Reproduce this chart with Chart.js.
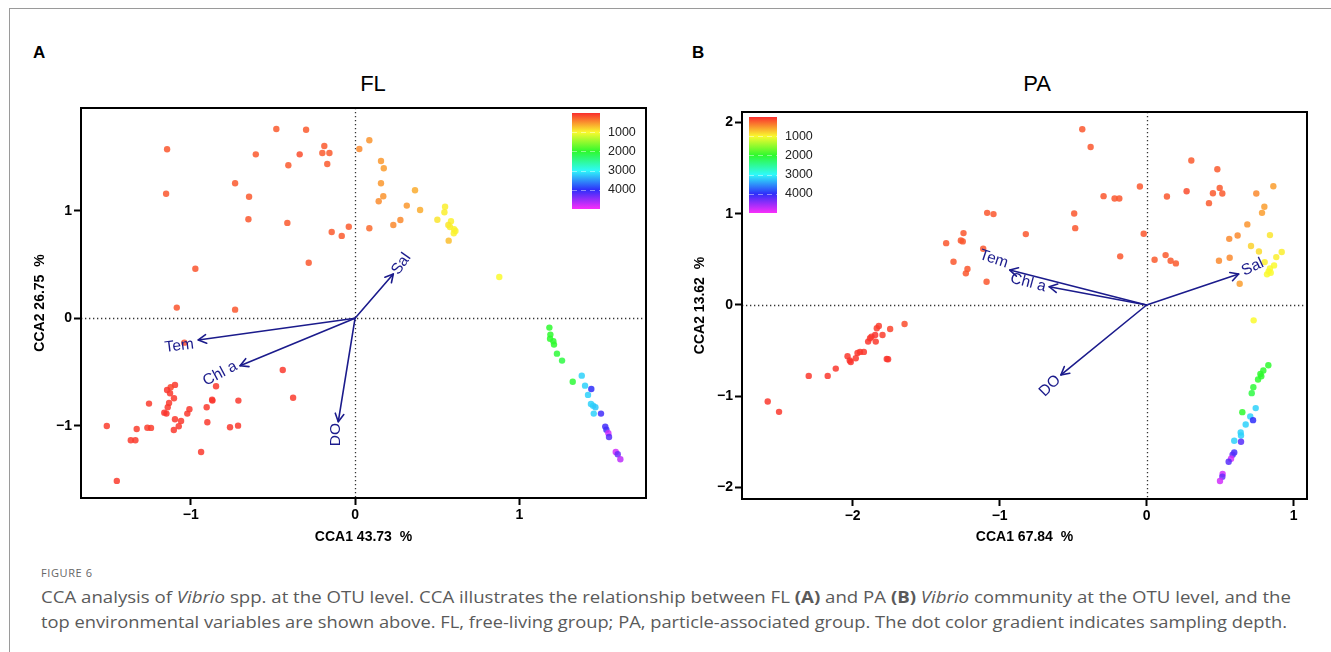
<!DOCTYPE html>
<html><head><meta charset="utf-8">
<script src="https://cdn.jsdelivr.net/npm/chart.js@4.4.1/dist/chart.umd.min.js"></script>
<style>
body{margin:0;background:#fff;width:1331px;height:652px;overflow:hidden;position:relative;font-family:"Liberation Sans",Arial,sans-serif}
#frame{position:absolute;left:9px;top:8px;width:1400px;height:700px;border-left:1px solid #9a9a9a;border-top:1px solid #9a9a9a}
canvas{position:absolute;top:0}
.lbl{position:absolute;font-weight:bold;font-size:17px;color:#000}
.ttl{position:absolute;font-size:22px;color:#000;transform:translateX(-50%)}
#fig{position:absolute;left:41px;top:565px;font-family:"Open Sans",sans-serif;font-size:11px;color:#666;letter-spacing:0.6px}
.cap{position:absolute;left:41px;font-family:"Open Sans",sans-serif;font-size:15.5px;color:#5a5a5a;white-space:nowrap;transform-origin:0 0}
</style></head><body>
<div id="frame"></div>
<div class="lbl" style="left:33px;top:43px">A</div>
<div class="lbl" style="left:692px;top:43px">B</div>
<div class="ttl" style="left:373px;top:71px">FL</div>
<div class="ttl" style="left:1037px;top:71px">PA</div>
<canvas id="c1" width="665" height="560" style="left:0"></canvas>
<canvas id="c2" width="666" height="560" style="left:665px"></canvas>
<div id="fig">FIGURE 6</div>
<div class="cap" id="cap1" style="top:586px">CCA analysis of <i>Vibrio</i> spp. at the OTU level. CCA illustrates the relationship between FL <b>(A)</b> and PA <b>(B)</b> <i>Vibrio</i> community at the OTU level, and the</div>
<div class="cap" id="cap2" style="top:611px">top environmental variables are shown above. FL, free-living group; PA, particle-associated group. The dot color gradient indicates sampling depth.</div>
<script>
// ---------- DATA ----------
const flX = [-1.144,-1.150,-0.730,-0.645,-0.649,-0.604,-0.479,-0.406,-0.337,-0.298,-0.187,-0.199,-0.156,-0.169,-0.412,-0.142,-0.081,-0.038,-0.282,-0.972,-1.085,-0.730,
 0.026,0.087,0.158,0.175,0.158,0.172,0.144,0.087,0.233,0.276,0.315,0.365,0.396,0.501,0.548,0.544,0.584,0.568,0.578,0.603,0.611,0.601,0.570,0.878,
 -1.039,-1.096,-1.122,-1.144,-1.126,-1.102,-1.254,-1.132,-1.140,-1.161,-1.148,-1.096,-1.059,-1.073,-1.103,-1.008,-1.021,-0.846,-0.870,-0.868,-0.903,-0.899,-0.710,-0.761,-0.712,-0.440,-0.377,-0.937,-1.511,-1.329,-1.264,-1.242,-1.365,-1.337,-1.450,
 1.183,1.189,1.187,1.207,1.211,1.229,1.260,1.325,1.380,1.400,1.438,1.418,1.436,1.449,1.463,1.453,1.497,1.523,1.530,1.542,1.546,1.587,1.599,1.615];
const flY = [1.572,1.159,1.256,1.131,0.921,1.525,1.761,1.423,1.525,1.754,1.603,1.538,1.538,1.435,0.887,0.803,0.766,0.852,0.517,0.461,0.099,0.080,
 1.575,1.656,1.463,1.395,1.256,1.135,1.088,0.837,0.868,0.914,1.048,1.191,1.007,0.917,1.038,0.986,0.902,0.868,0.849,0.828,0.812,0.791,0.722,0.384,
 -0.227,-0.620,-0.642,-0.667,-0.698,-0.744,-0.794,-0.788,-0.828,-0.878,-0.887,-0.940,-0.955,-1.005,-1.039,-0.847,-0.887,-0.633,-0.757,-0.766,-0.828,-0.968,-0.766,-1.014,-0.999,-0.481,-0.739,-1.244,-1.002,-1.030,-1.018,-1.020,-1.135,-1.135,-1.513,
 -0.087,-0.152,-0.190,-0.214,-0.245,-0.329,-0.394,-0.590,-0.534,-0.627,-0.658,-0.713,-0.797,-0.813,-0.828,-0.887,-0.887,-1.008,-1.036,-1.070,-1.104,-1.244,-1.265,-1.312];
const flDepth = [200,200,210,210,200,210,220,220,150,220,220,220,220,220,210,220,220,220,200,190,190,200,
 450,500,520,540,520,500,460,300,450,450,520,620,620,900,950,950,960,900,950,960,960,960,700,1000,
 160,60,120,40,60,60,70,60,60,20,40,60,60,60,60,50,50,60,40,40,60,60,50,60,60,60,70,60,80,80,80,80,70,70,70,
 2000,2000,2000,2000,2000,2050,2100,2050,3200,3200,4000,3200,3200,3200,3250,3200,4100,4100,4100,4800,4200,4800,4300,4700];

const paX = [-1.364,-1.314,-1.264,-1.251,-1.246,-1.219,-1.230,-1.112,-1.089,-1.085,-1.042,-0.822,-0.493,-0.486,-0.438,-0.381,-0.293,-0.218,-0.186,-0.180,-0.046,-0.020,0.054,0.129,0.163,0.199,0.138,0.272,0.304,0.424,0.451,0.481,0.497,0.515,
 0.492,0.562,0.565,0.619,0.685,0.710,0.746,0.764,0.785,0.801,0.839,0.862,0.803,0.882,0.919,0.867,0.839,0.830,0.819,0.844,0.633,0.728,
 0.828,0.794,0.774,0.780,0.758,0.726,0.715,0.651,0.742,0.705,0.724,0.674,0.640,0.642,0.596,0.642,0.596,0.585,0.574,0.558,0.517,0.515,0.499,
 -2.578,-2.501,-2.299,-2.170,-2.115,-2.035,-2.020,-2.013,-1.979,-1.967,-1.950,-1.924,-1.895,-1.882,-1.872,-1.847,-1.843,-1.836,-1.822,-1.797,-1.768,-1.759,-1.745,-1.647];
const paY = [0.678,0.474,0.708,0.697,0.788,0.394,0.347,0.616,0.255,1.010,0.996,0.777,1.003,0.842,1.926,1.732,1.193,1.167,1.167,0.533,1.299,0.780,0.496,0.547,0.485,0.456,1.189,1.247,1.583,1.116,1.225,1.488,1.283,1.222,
 0.485,0.725,0.517,0.762,0.883,0.646,1.222,0.587,1.010,1.076,0.766,1.302,0.470,0.525,0.580,0.434,0.401,0.369,0.336,0.353,0.233,-0.168,
 -0.660,-0.718,-0.755,-0.781,-0.817,-0.901,-0.966,-1.174,-1.130,-1.222,-1.262,-1.310,-1.397,-1.430,-1.488,-1.499,-1.616,-1.641,-1.685,-1.718,-1.852,-1.882,-1.929,
 -1.058,-1.171,-0.777,-0.777,-0.697,-0.561,-0.609,-0.624,-0.583,-0.525,-0.514,-0.514,-0.401,-0.364,-0.347,-0.328,-0.401,-0.255,-0.230,-0.328,-0.591,-0.594,-0.263,-0.208];
const paDepth = [200,200,200,200,200,200,200,200,200,200,200,200,200,200,200,200,200,200,200,200,200,200,220,220,220,220,200,150,220,220,220,220,220,220,
 450,450,450,450,500,800,450,850,550,550,900,550,950,950,950,1000,1000,1000,1000,1000,550,1000,
 2000,2000,2000,2000,2000,2050,2100,2000,3200,3200,4000,3200,3200,3200,3200,4200,4100,4200,4800,4200,4800,4300,4800,
 50,50,50,50,50,60,40,30,50,40,50,50,40,40,60,20,60,80,80,80,40,40,110,150];

const envNames = ['Tem','Chl a','DO','Sal'];
const flEnvX = [-0.954,-0.700,-0.102,0.233];
const flEnvY = [-0.202,-0.441,-0.962,0.412];
const paEnvX = [-0.931,-0.663,-0.583,0.626];
const paEnvY = [0.383,0.200,-0.766,0.339];

const flXTicks = [-1,0,1];
const flYTicks = [-1,0,1];
const paXTicks = [-2,-1,0,1];
const paYTicks = [-2,-1,0,1,2];
const depthTicks = [1000,2000,3000,4000];
const depthMax = 5000;

// ---------- STYLE ----------
const FONT = '"Liberation Sans", Arial, sans-serif';
const NAVY = '#1b1b8c';
function depthColor(d, a){ const h = 300*d/depthMax; return `hsla(${h.toFixed(1)},95%,58%,${a})`; }
const fmt = v => v < 0 ? '\u2212' + Math.abs(v) : String(v);

// label placement (pixel offsets from arrow tip, rotation degrees)
const flLabelStyle = [{dx:-19,dy:6,rot:-7},{dx:-20,dy:8,rot:-28},{dx:-3,dy:13,rot:-90},{dx:8,dy:-10,rot:-55}];
const paLabelStyle = [{dx:-16,dy:-11,rot:18},{dx:-21,dy:-4,rot:15},{dx:-11,dy:11,rot:-45},{dx:14,dy:-7,rot:-25}];

function overlayPlugin(cfg){
  return {
    id:'overlay',
    beforeDatasetsDraw(chart){
      const {ctx, chartArea:a, scales:{x,y}} = chart;
      ctx.save();
      ctx.strokeStyle = '#333'; ctx.lineWidth = 1.3; ctx.setLineDash([1.3,2.7]);
      const x0 = Math.round(x.getPixelForValue(0))+0.5, y0 = Math.round(y.getPixelForValue(0))+0.5;
      ctx.beginPath(); ctx.moveTo(a.left, y0); ctx.lineTo(a.right, y0); ctx.stroke();
      ctx.beginPath(); ctx.moveTo(x0, a.top); ctx.lineTo(x0, a.bottom); ctx.stroke();
      ctx.restore();
    },
    afterDatasetsDraw(chart){
      const {ctx, chartArea:a, scales:{x,y}} = chart;
      const ox = x.getPixelForValue(0), oy = y.getPixelForValue(0);
      ctx.save();
      ctx.strokeStyle = NAVY; ctx.fillStyle = NAVY; ctx.lineWidth = 1.6; ctx.lineCap='round'; ctx.lineJoin='round';
      cfg.envX.forEach((ev,i)=>{
        const tx = x.getPixelForValue(ev), ty = y.getPixelForValue(cfg.envY[i]);
        ctx.beginPath(); ctx.moveTo(ox,oy); ctx.lineTo(tx,ty); ctx.stroke();
        const ang = Math.atan2(ty-oy, tx-ox), L = 9, sp = 0.5;
        ctx.beginPath();
        ctx.moveTo(tx - L*Math.cos(ang-sp), ty - L*Math.sin(ang-sp));
        ctx.lineTo(tx,ty);
        ctx.lineTo(tx - L*Math.cos(ang+sp), ty - L*Math.sin(ang+sp));
        ctx.stroke();
        const st = cfg.labels[i];
        ctx.save();
        ctx.translate(tx+st.dx, ty+st.dy); ctx.rotate(st.rot*Math.PI/180);
        ctx.font = '15.5px ' + FONT; ctx.textAlign='center'; ctx.textBaseline='middle';
        ctx.fillText(envNames[i], 0, 0);
        ctx.restore();
      });
      ctx.restore();
      // colour bar
      const b = cfg.bar;
      const bx = b.fromRight ? a.right - b.off - b.w : a.left + b.off;
      const by = a.top + 5, bh = 96;
      const g = ctx.createLinearGradient(0, by, 0, by+bh);
      for (let s=0; s<=20; s++){ g.addColorStop(s/20, depthColor(depthMax*s/20, 1)); }
      ctx.save();
      ctx.fillStyle = g; ctx.fillRect(bx, by, b.w, bh);
      ctx.font = '12.5px ' + FONT; ctx.fillStyle = '#222'; ctx.textAlign='left'; ctx.textBaseline='middle';
      depthTicks.forEach(t=>{
        const ty = by + bh*t/depthMax;
        ctx.strokeStyle = 'rgba(255,255,255,0.45)'; ctx.lineWidth = 1;
        ctx.setLineDash([5,4]);
        ctx.beginPath(); ctx.moveTo(bx, Math.round(ty)+0.5); ctx.lineTo(bx+b.w, Math.round(ty)+0.5); ctx.stroke();
        ctx.fillText(String(t), bx + b.w + 8, ty);
      });
      ctx.restore();
    },
    afterDraw(chart){
      const {ctx, chartArea:a} = chart;
      ctx.save(); ctx.strokeStyle='#000'; ctx.lineWidth=2;
      ctx.strokeRect(a.left, a.top, a.right-a.left, a.bottom-a.top);
      ctx.restore();
    }
  };
}

function makeChart(id, xs, ys, ds, xr, yr, xT, yT, xTitle, yTitle, yW, xH, pad, yTitlePad, cfg){
  const pts = xs.map((v,i)=>({x:v, y:ys[i]}));
  const tickFont = {family:FONT, size:14, weight:'bold'};
  const titleFont = {family:FONT, size:14, weight:'bold'};
  const axisCommon = {
    grid:{drawOnChartArea:false, drawTicks:true, tickLength:7, tickWidth:2, tickColor:'#000'},
    border:{display:true, color:'#000', width:2},
  };
  return new Chart(document.getElementById(id), {
    type:'scatter',
    data:{datasets:[{data:pts, pointRadius:3.2, pointHoverRadius:3.2, borderWidth:0,
      pointBackgroundColor: ds.map(d=>depthColor(d,0.85))}]},
    options:{
      responsive:false, animation:false, devicePixelRatio:1,
      layout:{padding:pad},
      plugins:{legend:{display:false}, tooltip:{enabled:false}},
      scales:{
        x:{type:'linear', min:xr[0], max:xr[1], ...axisCommon,
          afterBuildTicks:s=>{s.ticks = xT.map(v=>({value:v}));},
          afterFit:s=>{s.height = xH;},
          ticks:{color:'#000', font:tickFont, padding:2, maxRotation:0, callback:fmt},
          title:{display:true, text:xTitle, color:'#000', font:titleFont, padding:{top:0,bottom:14}}},
        y:{type:'linear', min:yr[0], max:yr[1], ...axisCommon,
          afterBuildTicks:s=>{s.ticks = yT.map(v=>({value:v}));},
          afterFit:s=>{s.width = yW;},
          ticks:{color:'#000', font:tickFont, padding:2, callback:fmt},
          title:{display:true, text:yTitle, color:'#000', font:titleFont, padding:{top:yTitlePad,bottom:0}}}
      }
    },
    plugins:[overlayPlugin(cfg)]
  });
}

makeChart('c1', flX, flY, flDepth, [-1.668,1.771], [-1.672,1.956], flXTicks, flYTicks,
  'CCA1 43.73  %', 'CCA2 26.75  %', 81, 62, {top:108,right:19,left:0,bottom:0}, 32,
  {envX:flEnvX, envY:flEnvY, labels:flLabelStyle, bar:{fromRight:true, off:46, w:28}});
makeChart('c2', paX, paY, paDepth, [-2.753,1.091], [-2.126,2.115], paXTicks, paYTicks,
  'CCA1 67.84  %', 'CCA2 13.62  %', 77, 61, {top:112,right:24,left:0,bottom:0}, 27,
  {envX:paEnvX, envY:paEnvY, labels:paLabelStyle, bar:{fromRight:false, off:7, w:28}});

// fit caption lines to reference width
[['cap1',1250],['cap2',1246]].forEach(([id,w])=>{
  const el=document.getElementById(id); const cw=el.getBoundingClientRect().width;
  if(cw>0) el.style.transform='scaleX('+(w/cw)+')';
});
</script>
</body></html>
